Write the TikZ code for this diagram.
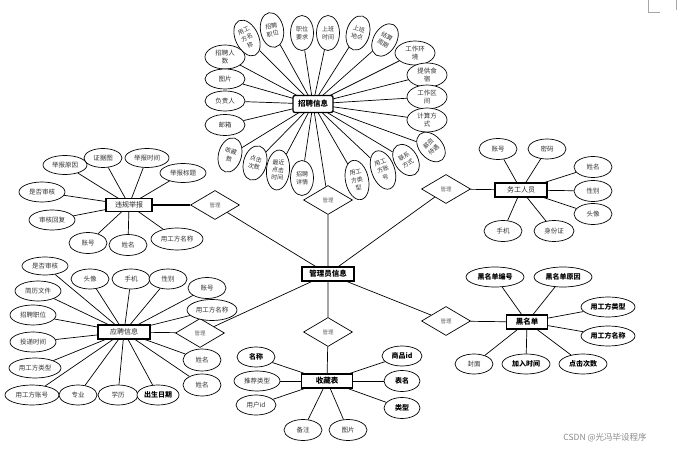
\documentclass[tikz,border=0pt]{standalone}
\usepackage{fontspec}
\setmainfont{Noto Sans CJK SC}
\usetikzlibrary{shapes.geometric,backgrounds}
\tikzset{
  attr/.style={ellipse,draw=black,line width=0.7pt,fill=white,inner sep=0pt,align=center,
    text=black!80,font=\fontsize{6.5}{8}\selectfont},
  vattr/.style={attr,font=\fontsize{6}{7.6}\selectfont},
  battr/.style={attr,text=black,font=\fontsize{7}{8.5}\selectfont\bfseries},
  ent/.style={rectangle,draw=black,line width=1.1pt,fill=white,inner sep=1pt,
    font=\fontsize{7}{8.5}\selectfont,text=black!85,minimum height=14pt},
  bent/.style={ent,font=\fontsize{7.5}{9}\selectfont\bfseries,text=black},
  rel/.style={diamond,draw=black,line width=0.7pt,fill=white,inner sep=0pt,
    minimum width=49pt,minimum height=29pt,text=black!60,font=\fontsize{5.5}{6.5}\selectfont},
  conn/.style={line width=0.7pt,black},
  thickconn/.style={line width=1.3pt,black}
}
\newcommand\myatt[6][attr]{\node[#1,minimum width=#5pt,minimum height=#6pt] (#2) at (#3) {#4};}
\newcommand\myrot[5]{\node[vattr,rotate=#5,minimum width=23pt,minimum height=#4pt] (#1) at (#2) {#3};}
\begin{document}
\begin{tikzpicture}[x=1pt,y=-1pt]
\useasboundingbox (0,0) rectangle (685,454);
\draw[black!35,line width=0.5pt] (648,0) -- (648,12) -- (660,12);
\draw[black!35,line width=0.5pt] (676,0) -- (676,10);

% entities
\node[ent,rounded corners=2pt,minimum width=40pt,minimum height=17pt,line width=1.3pt,font=\fontsize{7.5}{9}\selectfont\bfseries,text=black] (zp) at (313,104) {招聘信息};
\node[bent,minimum width=52pt] (gly) at (328,274) {管理员信息};
\node[ent,minimum width=46pt,minimum height=13pt] (wg) at (129,205) {违规举报};
\node[ent,minimum width=52pt] (wk) at (521,190) {务工人员};
\node[ent,minimum width=52pt] (yp) at (124,332) {应聘信息};
\node[bent,minimum width=51pt] (sc) at (327,381) {收藏表};
\node[bent,minimum width=41pt] (hm) at (527,322) {黑名单};

% relations
\node[rel] (dzp) at (328,200) {管理};
\node[rel] (dwg) at (215,205) {管理};
\node[rel] (dwk) at (446,189) {管理};
\node[rel] (dyp) at (200,333) {管理};
\node[rel] (dsc) at (328,332) {管理};
\node[rel] (dhm) at (446,321) {管理};

% 招聘信息 attributes
\myrot{z1}{247,38}{用工\\方名\\称}{38}{25}
\myrot{z2}{272,30}{招聘\\职位}{35}{10}
\myrot{z3}{302,33}{职位\\要求}{35}{0}
\myrot{z4}{328,33}{上班\\时间}{35}{0}
\myrot{z5}{358,33}{上班\\地点}{35}{-15}
\myrot{z6}{385,40}{结算\\周期}{35}{-30}
\myatt{z7}{415,53}{工作环\\境}{40}{24}
\myatt{z8}{427,75}{提供食\\宿}{40}{24}
\myatt{z9}{427,97}{工作区\\间}{40}{24}
\myatt{z10}{427,120}{计算方\\式}{40}{24}
\myatt{z11}{225,57}{招聘人\\数}{40}{24}
\myatt{z12}{225,79}{图片}{40}{20}
\myatt{z13}{225,101}{负责人}{40}{20}
\myatt{z14}{225,125}{邮箱}{40}{21}
\myrot{z15}{230,155}{收藏\\数}{35}{-15}
\myrot{z16}{255,163}{点击\\次数}{35}{-15}
\myrot{z17}{278,170}{最近\\点击\\时间}{40}{-5}
\myrot{z18}{302,178}{招聘\\详情}{35}{0}
\myrot{z19}{357,180}{用工\\方类\\型}{40}{12}
\myrot{z20}{383,170}{用工\\方账\\号}{40}{20}
\myrot{z21}{406,160}{联系\\方式}{34}{32}
\myrot{z22}{431,147}{薪资\\待遇}{34}{42}

% 违规举报 attributes
\myatt{w1}{65,165}{举报原因}{44}{19}
\myatt{w2}{103,158}{证据图}{38}{19}
\myatt{w3}{147,158}{举报时间}{44}{19}
\myatt{w4}{183,173}{举报标题}{46}{19}
\myatt{w5}{42,192}{是否审核}{46}{20}
\myatt{w6}{52,220}{审核回复}{46}{20}
\myatt{w7}{88,243}{账号}{38}{21}
\myatt{w8}{128,245}{姓名}{38}{21}
\myatt{w9}{177,239}{用工方名称}{52}{22}

% 务工人员 attributes
\myatt{k1}{498,149}{账号}{38}{21}
\myatt{k2}{547,149}{密码}{38}{20}
\myatt{k3}{593,167}{姓名}{38}{21}
\myatt{k4}{593,191}{性别}{38}{21}
\myatt{k5}{593,214}{头像}{38}{21}
\myatt{k6}{503,231}{手机}{38}{21}
\myatt{k7}{554,231}{身份证}{40}{21}

% 应聘信息 attributes
\myatt{y1}{45,266}{是否审核}{46}{18}
\myatt{y2}{38,291}{简历文件}{46}{20}
\myatt{y3}{33,315}{招聘职位}{46}{20}
\myatt{y4}{33,342}{投递时间}{46}{20}
\myatt{y5}{35,368}{用工方类型}{52}{20}
\myatt{y6}{32,395}{用工方账号}{54}{20}
\myatt{y7}{78,395}{专业}{38}{20}
\myatt{y8}{118,395}{学历}{40}{20}
\myatt[battr]{y9}{158,395}{出生日期}{42}{20}
\myatt{y10}{90,279}{头像}{38}{20}
\myatt{y11}{131,279}{手机}{38}{20}
\myatt{y12}{168,279}{性别}{38}{20}
\myatt{y13}{207,288}{账号}{38}{21}
\myatt{y14}{212,310}{用工方名称}{50}{21}
\myatt{y15}{202,360}{姓名}{38}{22}
\myatt{y16}{202,385}{姓名}{38}{22}

% 收藏表 attributes
\myatt[battr]{s1}{256,357}{名称}{38}{20}
\myatt{s2}{257,381}{推荐类型}{46}{20}
\myatt{s3}{256,405}{用户id}{40}{20}
\myatt{s4}{303,430}{备注}{38}{21}
\myatt{s5}{348,430}{图片}{38}{21}
\myatt[battr]{s6}{402,356}{商品id}{40}{20}
\myatt[battr]{s7}{402,381}{表名}{36}{21}
\myatt[battr]{s8}{402,408}{类型}{36}{21}

% 黑名单 attributes
\myatt[battr]{h1}{495,277}{黑名单编号}{58}{20}
\myatt[battr]{h2}{563,277}{黑名单原因}{58}{20}
\myatt[battr]{h3}{608,307}{用工方类型}{54}{20}
\myatt[battr]{h4}{608,336}{用工方名称}{54}{20}
\myatt{h5}{474,364}{封面}{38}{20}
\myatt[battr]{h6}{526,364}{加入时间}{48}{20}
\myatt[battr]{h7}{583,364}{点击次数}{48}{20}

\node[text=black!45,font=\fontsize{8.5}{10}\selectfont] (wm) at (605,438) {CSDN @光冯毕设程序};

\begin{scope}[on background layer]
  \fill[white] (0,0) rectangle (685,454);
  \foreach \i in {1,...,22} \draw[conn] (zp.center) -- (z\i);
  \foreach \i in {1,...,9} \draw[conn] (wg.center) -- (w\i);
  \foreach \i in {1,...,7} \draw[conn] (wk.center) -- (k\i);
  \foreach \i in {1,...,16} \draw[conn] (yp.center) -- (y\i);
  \foreach \i in {1,...,8} \draw[conn] (sc.center) -- (s\i);
  \foreach \i in {1,...,7} \draw[conn] (hm.center) -- (h\i);
\end{scope}

\draw[conn] (zp) -- (dzp) -- (gly);
\draw[thickconn] (wg) -- (dwg);
\draw[conn] (dwg) -- (gly);
\draw[conn] (wk) -- (dwk) -- (gly);
\draw[conn] (yp) -- (dyp) -- (gly);
\draw[conn] (gly) -- (dsc) -- (sc);
\draw[conn] (gly) -- (dhm) -- (hm);
\end{tikzpicture}
\end{document}
